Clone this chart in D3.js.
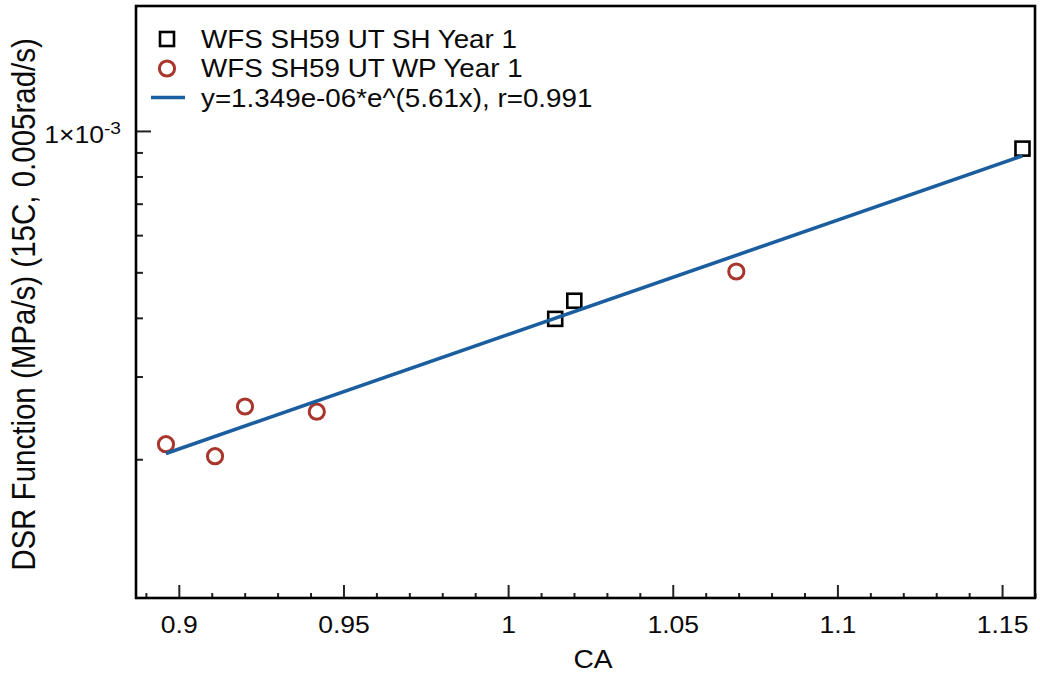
<!DOCTYPE html>
<html>
<head>
<meta charset="utf-8">
<script src="https://cdn.jsdelivr.net/npm/d3@7"></script>
<style>
  html, body { margin: 0; padding: 0; background: #fff; }
  svg { display: block; }
  text { font-family: "Liberation Sans", Arial, Helvetica, sans-serif; fill: #0a0a0a; }
</style>
</head>
<body>
<svg id="chart" width="1040" height="674"></svg>
<script>
// ---- data ----
const shCA  = [1.0143, 1.0201, 1.1562];
const shDSR = [3.98e-4, 4.35e-4, 9.17e-4];

const wpCA  = [0.8961, 0.9110, 0.9201, 0.9419, 1.0693];
const wpDSR = [2.153e-4, 2.03e-4, 2.59e-4, 2.525e-4, 5.02e-4];

// exponential fit: DSR = fitA * exp(fitB * CA)
const fitA = 1.349e-6;
const fitB = 5.61;

const seriesNames = [
  "WFS SH59 UT SH Year 1",
  "WFS SH59 UT WP Year 1",
  "y=1.349e-06*e^(5.61x), r=0.991"
];

const xMajorTicks = [0.9, 0.95, 1.0, 1.05, 1.1, 1.15];
const xTickLabels = ["0.9", "0.95", "1", "1.05", "1.1", "1.15"];
const xMinorTicks = [0.89, 0.91, 0.92, 0.93, 0.94, 0.96, 0.97, 0.98, 0.99, 1.01, 1.02, 1.03,
                     1.04, 1.06, 1.07, 1.08, 1.09, 1.11, 1.12, 1.13, 1.14, 1.16];
const yMajorTicks = [1e-3];
const yMinorTicks = [2e-4, 3e-4, 4e-4, 5e-4, 6e-4, 7e-4, 8e-4, 9e-4];

// ---- layout ----
const svg = d3.select("#chart");
const L = 136, R = 1035, T = 6, B = 598;
const TEXT_SX = 1.13;   // horizontal stretch of the lettering

const x = d3.scaleLinear().domain([0.887, 1.16]).range([L, R]);
const y = d3.scaleLog().domain([1.013e-4, 1.845e-3]).range([B, T]);

const red = "#a8362c", blue = "#1b5e9f";

// ---- axes ----
const gx = svg.append("g").attr("transform", `translate(0,${B})`);
gx.call(d3.axisBottom(x).tickValues(xMinorTicks).tickSizeInner(-5).tickSizeOuter(0).tickFormat(""));
const gxMajor = svg.append("g").attr("transform", `translate(0,${B})`);
gxMajor.call(d3.axisBottom(x).tickValues(xMajorTicks).tickSizeInner(-13).tickSizeOuter(0)
  .tickFormat((d, i) => xTickLabels[i]));
gxMajor.selectAll("text")
  .attr("y", 35).attr("dy", null)
  .style("font-size", "23.5px")
  .attr("transform", `scale(${TEXT_SX},1)`);

const gy = svg.append("g").attr("transform", `translate(${L},0)`);
gy.call(d3.axisLeft(y).tickValues(yMinorTicks).tickSizeInner(-7).tickSizeOuter(0).tickFormat(""));
const gyMajor = svg.append("g").attr("transform", `translate(${L},0)`);
gyMajor.call(d3.axisLeft(y).tickValues(yMajorTicks).tickSizeInner(-15).tickSizeOuter(0).tickFormat(""));

[gx, gxMajor, gy, gyMajor].forEach(g => {
  g.select(".domain").remove();
  g.selectAll(".tick line").attr("stroke", "#222").attr("stroke-width", 2);
});

// y tick label 1x10^-3
yMajorTicks.forEach(v => {
  const t = svg.append("text")
    .attr("text-anchor", "end")
    .attr("transform", `translate(121,${y(v) + 12}) scale(${TEXT_SX},1)`)
    .style("font-size", "23.5px");
  t.append("tspan").text("1\u00d710");
  t.append("tspan").attr("dy", -9).style("font-size", "17px").text("-3");
});

// plot frame
svg.append("rect")
  .attr("x", L).attr("y", T).attr("width", R - L).attr("height", B - T)
  .attr("fill", "none").attr("stroke", "#000").attr("stroke-width", 2.6);

// axis titles
svg.append("text")
  .attr("text-anchor", "middle")
  .attr("transform", `translate(593,668) scale(${TEXT_SX},1)`)
  .style("font-size", "25px")
  .text("CA");

svg.append("text")
  .attr("text-anchor", "middle")
  .attr("transform", `translate(35,304.5) scale(${TEXT_SX},1) rotate(-90)`)
  .style("font-size", "29.5px")
  .text("DSR Function (MPa/s) (15C, 0.005rad/s)");

// ---- marks ----
const plot = svg.append("g");

const sh = shCA.map((c, i) => ({ ca: c, dsr: shDSR[i] }));
const wp = wpCA.map((c, i) => ({ ca: c, dsr: wpDSR[i] }));

plot.selectAll(".sh").data(sh).join("rect")
  .attr("class", "sh")
  .attr("x", d => x(d.ca) - 7).attr("y", d => y(d.dsr) - 7)
  .attr("width", 14).attr("height", 14)
  .attr("fill", "none").attr("stroke", "#000").attr("stroke-width", 2.6);

plot.selectAll(".wp").data(wp).join("circle")
  .attr("class", "wp")
  .attr("cx", d => x(d.ca)).attr("cy", d => y(d.dsr)).attr("r", 7.6)
  .attr("fill", "none").attr("stroke", red).attr("stroke-width", 3);

// fitted curve across the range of the data (straight on a log axis)
const allCA = shCA.concat(wpCA);
const fitPts = d3.extent(allCA).map(c => ({ ca: c, dsr: fitA * Math.exp(fitB * c) }));
plot.append("path")
  .datum(fitPts)
  .attr("d", d3.line().x(d => x(d.ca)).y(d => y(d.dsr)))
  .attr("fill", "none").attr("stroke", blue).attr("stroke-width", 3.6);

// ---- legend ----
const leg = svg.append("g");
const rows = [47.5, 77, 106.5];
leg.append("rect").attr("x", 160).attr("y", rows[0] - 15.5).attr("width", 14).attr("height", 14)
  .attr("fill", "none").attr("stroke", "#000").attr("stroke-width", 2.6);
leg.append("circle").attr("cx", 167).attr("cy", rows[1] - 8.5).attr("r", 7.6)
  .attr("fill", "none").attr("stroke", red).attr("stroke-width", 3);
leg.append("line").attr("x1", 151).attr("x2", 185).attr("y1", rows[2] - 9).attr("y2", rows[2] - 9)
  .attr("stroke", blue).attr("stroke-width", 3.6);
seriesNames.forEach((s, i) => {
  leg.append("text")
    .attr("transform", `translate(201,${rows[i]}) scale(1.09,1)`)
    .style("font-size", "25.5px")
    .text(s);
});
</script>
</body>
</html>
